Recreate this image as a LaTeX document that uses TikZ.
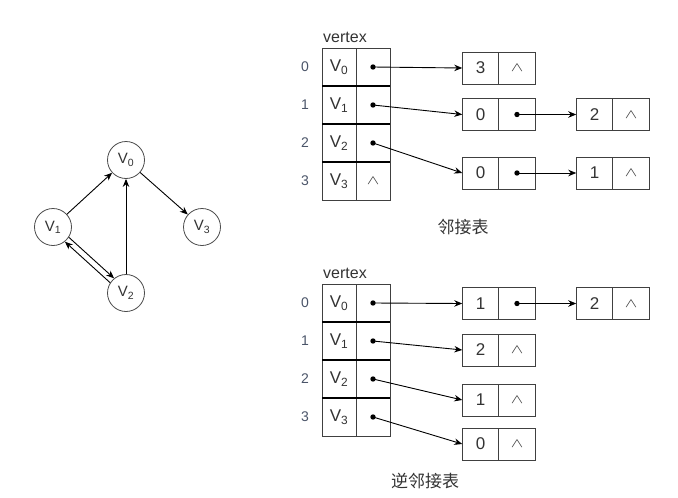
\documentclass[tikz,border=0pt]{standalone}
\usepackage{fontspec}
\usepackage{graphicx}
\setmainfont{Liberation Sans}
\newfontfamily\cjk{Noto Sans CJK SC}
\usetikzlibrary{arrows.meta,positioning}
\definecolor{txtgray}{HTML}{333333}
\definecolor{idxgray}{HTML}{4A5468}
\newcommand{\nilmark}{\raisebox{-3pt}{\scalebox{1.3}[0.9]{\fontsize{14}{14}\selectfont$\wedge$}}}
\tikzset{
  cell/.style={draw=black!75, line width=0.9pt, minimum width=34pt, minimum height=38pt, inner sep=0pt, outer sep=0pt, font=\fontsize{17}{19}\selectfont, text=txtgray},
  lcell/.style={draw=black!75, line width=0.9pt, minimum width=36.5pt, minimum height=32pt, inner sep=0pt, outer sep=0pt, font=\fontsize{17}{19}\selectfont, text=txtgray},
  idx/.style={font=\fontsize{14}{16}\selectfont, text=idxgray},
  title/.style={font=\fontsize{16}{18}\selectfont, text=txtgray},
  caption/.style={font=\cjk\fontsize{17}{19}\selectfont, text=txtgray},
  gnode/.style={circle, draw=black!70, line width=0.8pt, minimum size=37pt, inner sep=0pt, font=\fontsize{15}{17}\selectfont, text=txtgray},
  edge/.style={-{Stealth[length=8pt,width=6.5pt]}, line width=0.9pt},
  link/.style={-{Stealth[length=8pt,width=6.5pt]}, line width=0.9pt},
  rowsep/.style={line width=1.6pt}
}

\begin{document}
\begin{tikzpicture}[x=1pt, y=-1pt]
    \useasboundingbox (0,0) rectangle (678,498);

    % graph
    \node[gnode] (v0) at (126,160) {V\textsubscript{0}};
    \node[gnode] (v1) at (53,227) {V\textsubscript{1}};
    \node[gnode] (v2) at (126,293) {V\textsubscript{2}};
    \node[gnode] (v3) at (202,227) {V\textsubscript{3}};
    \draw[edge] (v1) -- (v0);
    \draw[edge] (v2) -- (v0);
    \draw[edge] (v0) -- (v3);
    \draw[edge] (v1.-33) -- (v2.129);
    \draw[edge] (v2.147) -- (v1.-51);

    % adjacency list
    \node[title] (tl) at (345,37) {vertex};
    \foreach \i/\y/\c in {0/67/{},1/105/{},2/143/{},3/181/\nilmark} {
        \node[idx] (ti\i) at (305,\y) {\i};
        \node[cell] (tv\i) at (339,\y) {V\textsubscript{\i}};
        \node[cell, right=0pt of tv\i] (tp\i) {\c};
    }
    \draw[rowsep] (tv0.south west) -- (tp0.south east);
    \draw[rowsep] (tv1.south west) -- (tp1.south east);
    \draw[rowsep] (tv2.south west) -- (tp2.south east);

    \node[lcell] (a0d) at (480.5,68) {3};
    \node[lcell, right=0pt of a0d] (a0n) {\nilmark};
    \node[lcell] (a1d) at (480.5,114.5) {0};
    \node[lcell, right=0pt of a1d] (a1n) {};
    \node[lcell] (b1d) at (594.5,114.5) {2};
    \node[lcell, right=0pt of b1d] (b1n) {\nilmark};
    \node[lcell] (a2d) at (480.5,173) {0};
    \node[lcell, right=0pt of a2d] (a2n) {};
    \node[lcell] (b2d) at (594.5,173) {1};
    \node[lcell, right=0pt of b2d] (b2n) {\nilmark};

    \draw[link] (tp0.center) -- (a0d.west);
    \draw[link] (tp1.center) -- (a1d.west);
    \draw[link] (a1n.center) -- (b1d.west);
    \draw[link] (tp2.center) -- (a2d.west);
    \draw[link] (a2n.center) -- (b2d.west);

    \node[caption] (cap1) at (463,227) {邻接表};

    % inverse adjacency list
    \node[title] (bl) at (345,273) {vertex};
    \foreach \i/\y in {0/303,1/341,2/379,3/417} {
        \node[idx] (bi\i) at (305,\y) {\i};
        \node[cell] (bv\i) at (339,\y) {V\textsubscript{\i}};
        \node[cell, right=0pt of bv\i] (bp\i) {};
    }
    \draw[rowsep] (bv0.south west) -- (bp0.south east);
    \draw[rowsep] (bv1.south west) -- (bp1.south east);
    \draw[rowsep] (bv2.south west) -- (bp2.south east);

    \node[lcell] (c0d) at (480.5,303.5) {1};
    \node[lcell, right=0pt of c0d] (c0n) {};
    \node[lcell] (d0d) at (594.5,303.5) {2};
    \node[lcell, right=0pt of d0d] (d0n) {\nilmark};
    \node[lcell] (c1d) at (480.5,350) {2};
    \node[lcell, right=0pt of c1d] (c1n) {\nilmark};
    \node[lcell] (c2d) at (480.5,400) {1};
    \node[lcell, right=0pt of c2d] (c2n) {\nilmark};
    \node[lcell] (c3d) at (480.5,444) {0};
    \node[lcell, right=0pt of c3d] (c3n) {\nilmark};

    \draw[link] (bp0.center) -- (c0d.west);
    \draw[link] (c0n.center) -- (d0d.west);
    \draw[link] (bp1.center) -- (c1d.west);
    \draw[link] (bp2.center) -- (c2d.west);
    \draw[link] (bp3.center) -- (c3d.west);

    \node[caption] (cap2) at (425,481) {逆邻接表};

    % pointer dots
    \foreach \p in {tp0,tp1,tp2,a1n,a2n,bp0,bp1,bp2,bp3,c0n} {
        \fill (\p.center) circle (2.7pt);
    }
\end{tikzpicture}
\end{document}
